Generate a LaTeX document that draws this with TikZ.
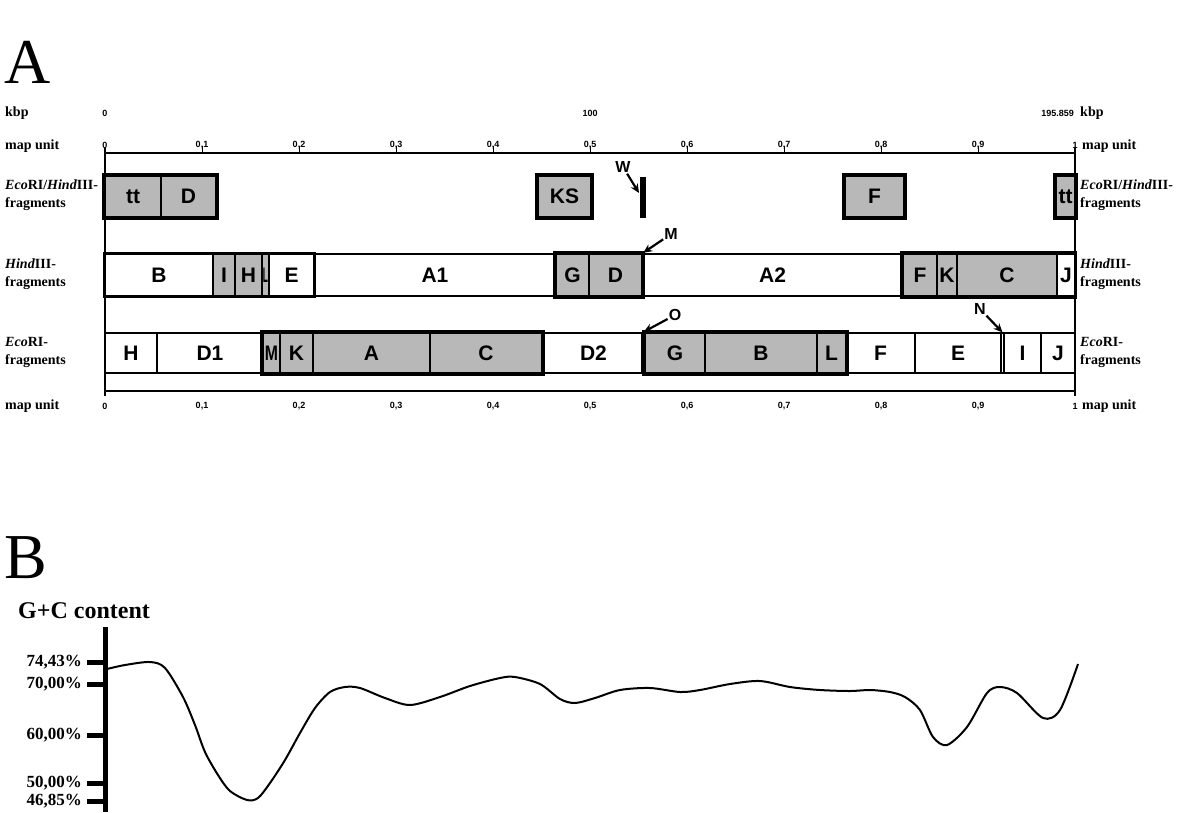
\documentclass[tikz,border=0pt]{standalone}
\usepackage{fontspec}
\setmainfont{Liberation Serif}
\setsansfont{Liberation Sans}
\usetikzlibrary{fit,arrows,arrows.meta}

\definecolor{fraggray}{gray}{0.72}

\begin{document}
\begin{tikzpicture}[x=1pt, y=-1pt, >=stealth,
    rowlab/.style={font=\fontsize{14}{18}\selectfont\bfseries, align=left, inner sep=0pt},
    tk/.style={font=\sffamily\bfseries\fontsize{9}{9}\selectfont, inner sep=0pt},
    frag/.style={draw, line width=1.2pt, inner sep=0pt, fill=white},
    sfrag/.style={frag, line width=2.4pt, fill=fraggray},
    fraglab/.style={font=\sffamily\bfseries\fontsize{21}{21}\selectfont, inner sep=0pt},
    grp/.style={draw, line width=3pt, inner sep=0pt},
    siglab/.style={font=\sffamily\bfseries\fontsize{16}{16}\selectfont, inner sep=1pt},
    sig/.style={-{Stealth[length=9pt,width=8pt]}, line width=2.2pt},
    pct/.style={font=\fontsize{17}{17}\selectfont\bfseries, anchor=east, inner sep=0pt}]
\useasboundingbox (0,0) rectangle (1177,812);

% panel A
\node[font=\fontsize{64}{64}\selectfont, anchor=base west, inner sep=0pt] (panelA) at (4,83) {A};

\node[rowlab, anchor=west] (kbpL) at (5,113) {kbp};
\node[rowlab, anchor=west] (kbpR) at (1080,113) {kbp};
\node[tk] (kbp0) at (105,113) {0};
\node[tk] (kbp100) at (590,113) {100};
\node[tk, anchor=east] (kbpend) at (1074,113) {195.859};

\node[rowlab, anchor=west] (muTL) at (5,146) {map unit};
\node[rowlab, anchor=west] (muTR) at (1082,146) {map unit};
\node[rowlab, anchor=west] (muBL) at (5,406) {map unit};
\node[rowlab, anchor=west] (muBR) at (1082,406) {map unit};

\node[rowlab, anchor=west] (ehL) at (5,195) {\textit{Eco}RI/\textit{Hind}III-\\fragments};
\node[rowlab, anchor=west] (ehR) at (1080,195) {\textit{Eco}RI/\textit{Hind}III-\\fragments};
\node[rowlab, anchor=west] (hL) at (5,274) {\textit{Hind}III-\\fragments};
\node[rowlab, anchor=west] (hR) at (1080,274) {\textit{Hind}III-\\fragments};
\node[rowlab, anchor=west] (eL) at (5,352) {\textit{Eco}RI-\\fragments};
\node[rowlab, anchor=west] (eR) at (1080,352) {\textit{Eco}RI-\\fragments};

% map unit scales
\draw[line width=1.6pt] (105,153) -- (1075,153);
\draw[line width=1.6pt] (105,391) -- (1075,391);
\draw[line width=1.2pt] (105,148) -- (105,396);
\draw[line width=1.2pt] (1075,148) -- (1075,396);
\node[tk] (muT0) at (105,145) {0};
\node[tk] (muT10) at (1075,145) {1};
\node[tk] (muB0) at (105,406) {0};
\node[tk] (muB10) at (1075,406) {1};
\foreach \i in {1,...,9} {
  \draw[line width=1pt] (105+97*\i,153) -- (105+97*\i,146);
  \node[tk] (muT\i) at (105+97*\i,145) {0,\i};
  \node[tk] (muB\i) at (105+97*\i,406) {0,\i};
}

% EcoRI/HindIII fragments
\foreach \n/\l/\r/\t in {rtt/105/161/tt, rD/161/216/D, rKS/538/591/KS, rF/845/904/F, rtt2/1056/1075/tt} {
  \node[sfrag, fit={(\l,176) (\r,217)}] (\n) {};
  \node[fraglab] (\n-t) at (\n.center) {\t};
}
\node[grp, fit=(rtt)(rD)] (rgrp) {};
\foreach \n in {rKS,rF,rtt2}
  \node[grp, fit=(\n)] (\n-o) {};
\node[fill=black, inner sep=0pt, fit={(640,177) (646,218)}] (wbar) {};

% HindIII fragments
\foreach \n/\l/\r/\t/\s in {hB/105/213/B/frag, hI/213/235/I/sfrag, hH/235/262/H/sfrag,
    hL/262/269/{\scalebox{0.4}[1]{L}}/sfrag, hE/269/314/E/frag, hA1/314/556/A1/frag,
    hG/556/589/G/sfrag, hD/589/642/D/sfrag, hA2/642/903/A2/frag,
    hF/903/937/F/sfrag, hK/937/957/K/sfrag, hC/957/1057/C/sfrag, hJ/1057/1075/J/frag} {
  \node[\s, fit={(\l,254) (\r,296)}] (\n) {};
  \node[fraglab] (\n-t) at (\n.center) {\t};
}
\node[grp, fit=(hB)(hE)] (hgrp1) {};
\node[grp, fit=(hG)(hD)] (hgrp2) {};
\node[grp, fit=(hF)(hJ)] (hgrp3) {};
\draw[line width=4pt] (hD.north east) -- (hD.south east);

% EcoRI fragments
\foreach \n/\l/\r/\t/\s in {eH/105/157/H/frag, eD1/157/263/D1/frag, eM/263/280/{\scalebox{0.75}[1]{M}}/sfrag,
    eK/280/313/K/sfrag, eA/313/430/A/sfrag, eC/430/542/C/sfrag, eD2/542/645/D2/frag,
    eG/645/705/G/sfrag, eB/705/817/B/sfrag, eL/817/846/L/sfrag, eF/846/915/F/frag,
    eE/915/1001/E/frag, eN/1001/1004/{}/frag, eI/1004/1041/I/frag, eJ/1041/1075/J/frag} {
  \node[\s, fit={(\l,333) (\r,373)}] (\n) {};
  \node[fraglab] (\n-t) at (\n.center) {\t};
}
\node[grp, fit=(eM)(eC)] (egrp1) {};
\node[grp, fit=(eG)(eL)] (egrp2) {};
\draw[line width=5pt] (eG.north west) -- (eG.south west);

% marked fragments
\node[siglab] (wlab) at (623,167) {W};
\coordinate (wtip) at (639,193);
\draw[sig] (wlab) -- (wtip);
\node[siglab] (mlab) at (671,234) {M};
\draw[sig] (mlab) -- (hD.north east);
\node[siglab] (olab) at (675,315) {O};
\draw[sig] (olab) -- (eG.north west);
\node[siglab] (nlab) at (980,309) {N};
\draw[sig] (nlab) -- (eN.north);

% panel B
\node[font=\fontsize{64}{64}\selectfont, anchor=base west, inner sep=0pt] (panelB) at (4,578) {B};
\node[font=\fontsize{24}{24}\selectfont\bfseries, anchor=base west, inner sep=0pt] (gclab) at (18,618) {G+C content};
\draw[line width=5pt] (105,627) -- (105,812);
\foreach \y/\t [count=\i] in {662/74{,}43\%, 684/70{,}00\%, 735/60{,}00\%, 783/50{,}00\%, 801/46{,}85\%} {
  \draw[line width=5pt] (87,\y) -- (105,\y);
  \node[pct] (pct\i) at (82,\y) {\t};
}
\draw[line width=2pt, smooth] plot coordinates {
  (107,669) (125,665) (150,662) (165,668) (183,697) (195,725) (205,752) (218,775)
  (230,791) (247,800) (258,798) (270,783) (285,760) (300,733) (315,708) (330,692)
  (345,687) (360,688) (385,698) (410,705) (440,697) (470,686) (500,678) (515,677)
  (540,684) (560,699) (575,703) (595,698) (620,690) (650,688) (680,692) (700,690)
  (730,684) (760,681) (790,687) (820,690) (850,691) (870,690) (890,692) (905,697)
  (920,710) (933,737) (947,745) (967,727) (987,693) (1000,687) (1017,693) (1043,718)
  (1060,710) (1078,664)};
\end{tikzpicture}
\end{document}
